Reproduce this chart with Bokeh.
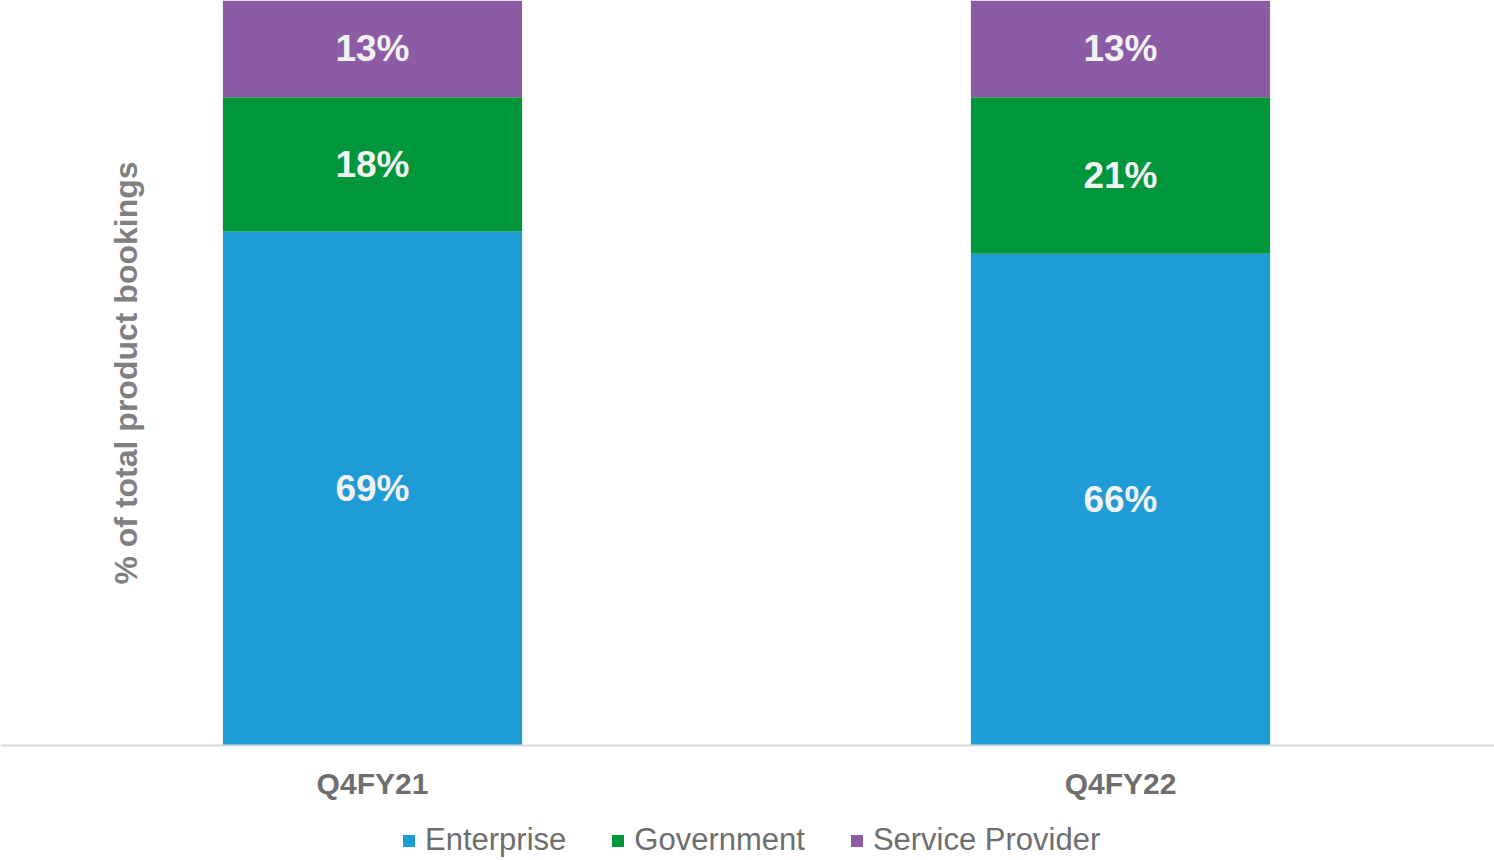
import math
from bokeh.plotting import figure
from bokeh.models import (Range1d, Legend, LegendItem, Label, Span, ColumnDataSource)
from bokeh.core.properties import value
from bokeh.embed import file_html
from bokeh.resources import INLINE

categories = ["Q4FY21", "Q4FY22"]
segments = ["Enterprise", "Government", "Service Provider"]
enterprise = [69, 66]
government = [18, 21]
service_provider = [13, 13]
colors = ["#1f9bd6", "#00963c", "#8b5ba6"]
y_title = "% of total product bookings"

FONT = "Liberation Sans"

xs = list(range(len(categories)))
series = [enterprise, government, service_provider]

p = figure(width=1494, height=860, output_backend="svg", toolbar_location=None,
           x_axis_type=None, y_axis_type=None,
           x_range=Range1d(-0.4973, 1.5), y_range=Range1d(-15.44, 100),
           min_border_left=0, min_border_right=0, min_border_top=0, min_border_bottom=0)
p.outline_line_color = None
p.grid.visible = False
p.background_fill_color = "white"

renderers = []
bottoms = [0] * len(xs)
for vals, col in zip(series, colors):
    tops = [b + v for b, v in zip(bottoms, vals)]
    src = ColumnDataSource(dict(x=xs, bottom=bottoms, top=tops,
                                mid=[(b + t) / 2 for b, t in zip(bottoms, tops)],
                                lab=[f"{v}%" for v in vals]))
    r = p.vbar(x="x", bottom="bottom", top="top", width=0.4, source=src,
               fill_color=col, line_color=None)
    renderers.append(r)
    p.text(x="x", y="mid", text="lab", source=src, text_align="center",
           text_baseline="middle", text_font=value(FONT), text_font_style="bold",
           text_font_size="37px", text_color="#f2f2f2")
    bottoms = tops

# category axis: baseline and labels
p.add_layout(Span(location=0, dimension="width", line_color="#d9d9d9", line_width=2))
cat_src = ColumnDataSource(dict(x=xs, y=[-5.1] * len(xs), t=categories))
p.text(x="x", y="y", text="t", source=cat_src, text_align="center",
       text_baseline="middle", text_font=value(FONT), text_font_style="bold",
       text_font_size="30px", text_color="#6e6e6e")

p.add_layout(Label(x=125, y=50, x_units="screen", y_units="data", text=y_title,
                   angle=math.pi / 2, text_align="center", text_baseline="middle",
                   text_font=FONT, text_font_style="bold", text_font_size="32px",
                   text_color="#808080"))

legend = Legend(items=[LegendItem(label=s, renderers=[r]) for s, r in zip(segments, renderers)],
                orientation="horizontal", location=(401, 2),
                glyph_width=15, glyph_height=15, label_standoff=9, spacing=44,
                padding=0, margin=0, border_line_color=None, background_fill_alpha=0,
                label_height=15, label_text_line_height=1.0,
                label_text_font=FONT, label_text_font_size="31px",
                label_text_color="#6e6e6e")
p.add_layout(legend, "center")

open("out.html", "w").write(file_html(p, INLINE))
